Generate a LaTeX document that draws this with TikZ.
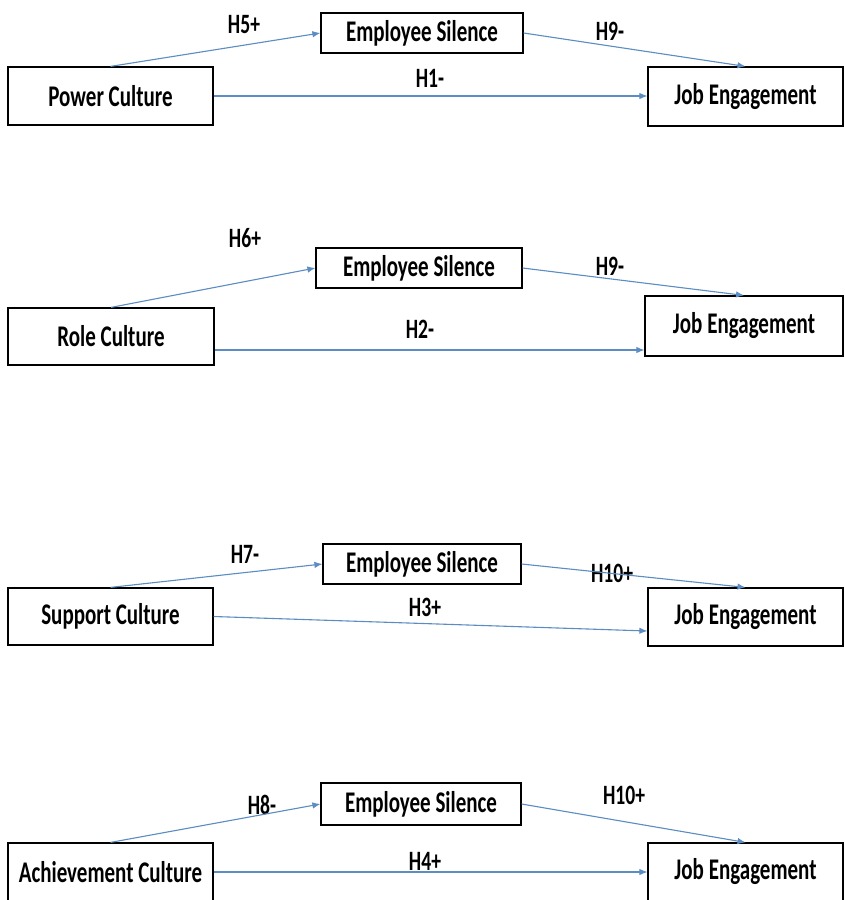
\documentclass[tikz,border=0pt]{standalone}
\usepackage{fontspec}
\setmainfont{Carlito}[FakeStretch=0.7]
\usepackage{xcolor}
\usetikzlibrary{arrows.meta,calc}
\definecolor{PathBlue}{HTML}{5B8CC2}

\begin{document}
\begin{tikzpicture}[
  x=1pt, y=-1pt,
  box/.style={draw, line width=1.2pt, inner sep=0pt, font=\fontsize{30}{34}\selectfont\bfseries},
  lbl/.style={inner sep=0pt, font=\fontsize{28}{32}\selectfont\bfseries},
  arrow/.style={-{Latex[length=8pt,width=6.5pt]}, PathBlue, line width=1.1pt}
]
\clip (0,0) rectangle (844,900);
\fill[white] (0,0) rectangle (844,900);

% power culture
\node[box, minimum width=205pt, minimum height=58pt] (power) at (110.5,96) {Power Culture};
\node[box, minimum width=202pt, minimum height=40pt] (silA) at (422,33) {Employee Silence};
\node[box, minimum width=195pt, minimum height=59pt] (engA) at (745.5,96.5) {Job Engagement};
\node[lbl] (h5) at (244,25) {H5+};
\node[lbl] (h9a) at (610,31) {H9-};
\node[lbl] (h1) at (430,78) {H1-};
\draw[arrow] (power.north) -- (silA.west);
\draw[arrow] (silA.east) -- (engA.north);
\draw[arrow] (power.east) -- (power.east -| engA.west);

% role culture
\node[box, minimum width=206pt, minimum height=57pt] (role) at (111,336.5) {Role Culture};
\node[box, minimum width=206pt, minimum height=40pt] (silB) at (419,268) {Employee Silence};
\node[box, minimum width=198pt, minimum height=60pt] (engB) at (744,326) {Job Engagement};
\node[lbl] (h6) at (245,238) {H6+};
\node[lbl] (h9b) at (610,266) {H9-};
\node[lbl] (h2) at (420,329) {H2-};
\coordinate (roleOut) at ($(role.east)+(0,13.5)$);
\draw[arrow] (role.north) -- (silB.west);
\draw[arrow] (silB.east) -- (engB.north);
\draw[arrow] (roleOut) -- (roleOut -| engB.west);

% support culture
\node[box, minimum width=198pt, minimum height=40pt] (silC) at (422,564) {Employee Silence};
\node[box, minimum width=205pt, minimum height=57pt] (support) at (110.5,616.5) {Support Culture};
\node[box, minimum width=195pt, minimum height=58pt] (engC) at (745.5,617) {Job Engagement};
\node[lbl] (h7) at (245,554) {H7-};
\node[lbl] (h10a) at (612,573) {H10+};
\node[lbl] (h3) at (425,607) {H3+};
\coordinate (supportIn) at ($(engC.west)+(0,14)$);
\draw[arrow] (support.north) -- (silC.west);
\draw[arrow] (silC.east) -- (engC.north);
\draw[arrow] (support.east) -- (supportIn);

% achievement culture
\node[box, minimum width=200pt, minimum height=42pt] (silD) at (421,804) {Employee Silence};
\node[box, minimum width=205pt, minimum height=58pt] (achieve) at (110.5,872) {Achievement Culture};
\node[box, minimum width=195pt, minimum height=58pt] (engD) at (745.5,872) {Job Engagement};
\node[lbl] (h8) at (262,805) {H8-};
\node[lbl] (h10b) at (624,795) {H10+};
\node[lbl] (h4) at (425,861) {H4+};
\draw[arrow] (achieve.north) -- (silD.west);
\draw[arrow] (silD.east) -- (engD.north);
\draw[arrow] (achieve.east) -- (engD.west);
\end{tikzpicture}
\end{document}
